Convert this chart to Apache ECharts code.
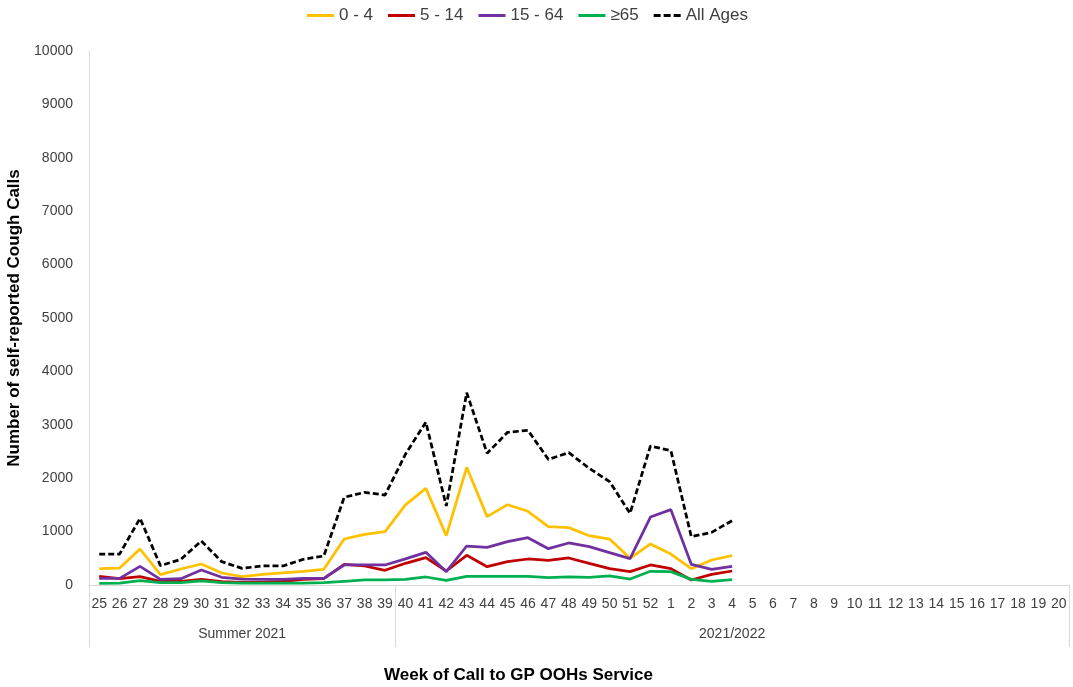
<!DOCTYPE html>
<html>
<head>
<meta charset="utf-8">
<script src="https://cdn.jsdelivr.net/npm/echarts@6/dist/echarts.min.js"></script>
<style>html,body{margin:0;padding:0;background:#fff;}#c{width:1073px;height:687px;}</style>
</head>
<body>
<div id="c"></div>
<script>
const weeks = ['25','26','27','28','29','30','31','32','33','34','35','36','37','38','39','40','41','42','43','44','45','46','47','48','49','50','51','52','1','2','3','4','5','6','7','8','9','10','11','12','13','14','15','16','17','18','19','20'];
const groupLabels = ['Summer 2021', '2021/2022'];
const groupCenters = [7.5, 31.5];
const groupBounds = [0, 15, 48];
const yTicks = [0, 10000, 1000];

const age0to4 = [306,318,674,194,300,393,225,156,200,225,256,293,861,949,998,1500,1810,924,2204,1280,1504,1380,1092,1074,924,861,500,768,580,306,468,549];
const age5to14 = [162,119,156,69,69,106,62,50,50,69,106,119,387,356,275,406,512,262,556,343,437,487,462,506,406,306,250,375,306,94,200,262];
const age15to64 = [125,125,349,106,119,281,144,112,106,106,125,125,375,375,375,490,612,250,730,705,811,886,680,787,718,605,493,1273,1411,387,293,349];
const age65plus = [31,37,81,44,44,75,44,37,37,37,37,44,69,94,94,106,150,87,162,162,162,162,137,150,144,169,112,256,250,106,69,100];
const allAges = [580,580,1249,362,481,824,437,312,356,356,481,543,1642,1735,1685,2450,3050,1479,3601,2466,2859,2896,2353,2478,2185,1935,1342,2603,2516,905,986,1205];

const chart = echarts.init(document.getElementById('c'));
const font = 'Liberation Sans';
function lineSeries(name, data, color, dashed) {
  return {
    name: name, type: 'line', data: data, xAxisIndex: 0, yAxisIndex: 0,
    symbol: 'none', smooth: false,
    lineStyle: { color: color, width: 2.75, type: dashed ? [6, 3] : 'solid' },
    itemStyle: { color: color },
    emphasis: { disabled: true }
  };
}
const dashIcon = 'path://M0,0h7v3h-7z M10,0h7v3h-7z M20,0h7v3h-7z';
chart.setOption({
  animation: false,
  textStyle: { fontFamily: font },
  legend: {
    top: 2, left: 302,
    itemWidth: 27, itemHeight: 3, itemGap: 15,
    textStyle: { fontSize: 17, color: '#404040', fontFamily: font },
    data: [
      { name: '0 - 4', icon: 'rect' },
      { name: '5 - 14', icon: 'rect' },
      { name: '15 - 64', icon: 'rect' },
      { name: '≥65', icon: 'rect' },
      { name: 'All Ages', icon: dashIcon }
    ]
  },
  title: {
    text: 'Week of Call to GP OOHs Service',
    left: 379, top: 662,
    textStyle: { fontSize: 17, fontWeight: 'bold', color: '#000', fontFamily: font }
  },
  grid: { left: 89, right: 4, top: 51, bottom: 102, containLabel: false, outerBoundsMode: 'none' },
  xAxis: [{
    type: 'category', data: weeks, boundaryGap: true,
    axisLine: { show: true, lineStyle: { color: '#d9d9d9', width: 1 } },
    axisTick: { show: false },
    axisLabel: { interval: 0, margin: 12, fontSize: 14, color: '#404040', fontFamily: font },
    splitLine: { show: false }
  }, {
    type: 'value', min: groupBounds[0], max: groupBounds[2], position: 'bottom',
    axisLine: { show: false },
    splitLine: { show: false },
    axisTick: { show: true, customValues: groupBounds, length: 62, lineStyle: { color: '#d9d9d9', width: 1 } },
    axisLabel: {
      show: true, customValues: groupCenters, margin: 42, fontSize: 14, color: '#404040', fontFamily: font,
      formatter: function (v) { const i = groupCenters.indexOf(v); return i >= 0 ? groupLabels[i] : ''; }
    }
  }],
  yAxis: {
    type: 'value', min: yTicks[0], max: yTicks[1], interval: yTicks[2],
    name: 'Number of self-reported Cough Calls', nameLocation: 'middle', nameGap: 52,
    nameTextStyle: { fontSize: 17, fontWeight: 'bold', color: '#000', fontFamily: font },
    axisLine: { show: true, lineStyle: { color: '#d9d9d9', width: 1 } },
    axisTick: { show: false },
    splitLine: { show: false },
    axisLabel: { fontSize: 14, color: '#404040', margin: 16, fontFamily: font, formatter: function (v) { return String(v); } }
  },
  series: [
    lineSeries('0 - 4', age0to4, '#FFC000', false),
    lineSeries('5 - 14', age5to14, '#C00000', false),
    lineSeries('15 - 64', age15to64, '#7030A0', false),
    lineSeries('≥65', age65plus, '#00B050', false),
    lineSeries('All Ages', allAges, '#000000', true)
  ]
});
</script>
</body>
</html>
